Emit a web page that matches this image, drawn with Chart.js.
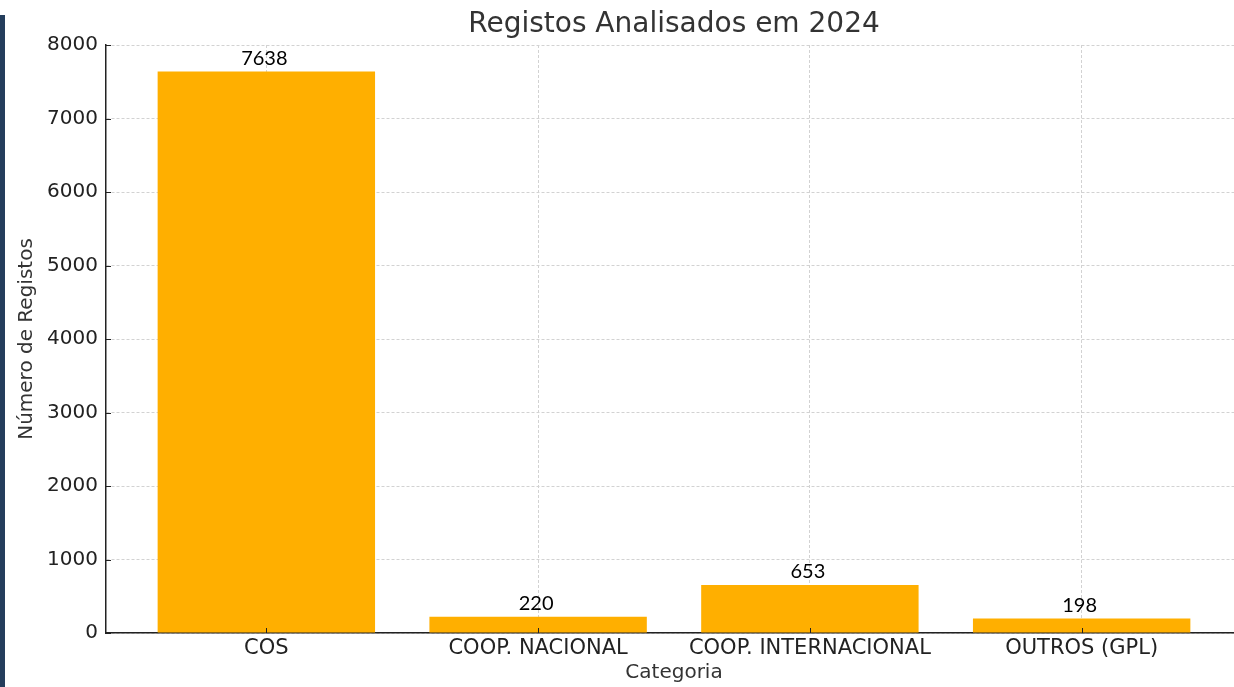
<!DOCTYPE html>
<html>
<head>
<meta charset="utf-8">
<script src="https://cdn.jsdelivr.net/npm/chart.js@4/dist/chart.umd.min.js"></script>
<style>
  html, body { margin: 0; padding: 0; background: #fff; overflow: hidden; }
  #wrap { position: relative; width: 1234px; height: 687px; overflow: hidden; }
  #leftBar { position: absolute; left: 0; top: 15px; width: 5px; bottom: 0; background: #243d5c; z-index: 2; }
  canvas { position: absolute; left: 0; top: 0; }
</style>
</head>
<body>
<div id="wrap">
  <div id="leftBar"></div>
  <canvas id="regChart" width="1242" height="687"></canvas>
</div>
<script>
/* ======================================================
   DATA
====================================================== */

const categories = ["COS", "COOP. NACIONAL", "COOP. INTERNACIONAL", "OUTROS (GPL)"];
const registos = [7638, 220, 653, 198];
const yTicks = [0, 1000, 2000, 3000, 4000, 5000, 6000, 7000, 8000];

const BAR_COLOR = "#ffaf00";
const FONT = "'DejaVu Sans', sans-serif";

/* ======================================================
   PLUGINS
====================================================== */

// value above each bar
const valueLabels = {
  id: "valueLabels",
  afterDatasetsDraw(chart) {
    const ctx = chart.ctx;
    const meta = chart.getDatasetMeta(0);
    ctx.save();
    ctx.font = "20px Lato, sans-serif";
    ctx.fillStyle = "#000";
    ctx.textAlign = "center";
    ctx.textBaseline = "bottom";
    meta.data.forEach((bar, i) => {
      ctx.fillText(String(registos[i]), bar.x - 2, bar.y - 3);
    });
    ctx.restore();
  }
};

// short tick marks pointing into the plot
const innerTicks = {
  id: "innerTicks",
  afterDraw(chart) {
    const { ctx, chartArea, scales } = chart;
    ctx.save();
    ctx.strokeStyle = "#222";
    ctx.lineWidth = 1;
    ctx.beginPath();
    scales.y.ticks.forEach((t, i) => {
      const y = Math.round(scales.y.getPixelForTick(i)) + 0.5;
      ctx.moveTo(chartArea.left, y);
      ctx.lineTo(chartArea.left + 5, y);
    });
    scales.x.ticks.forEach((t, i) => {
      const x = Math.round(scales.x.getPixelForTick(i)) + 0.5;
      ctx.moveTo(x, chartArea.bottom);
      ctx.lineTo(x, chartArea.bottom - 5);
    });
    ctx.stroke();
    ctx.restore();
  }
};

/* ======================================================
   CHART
====================================================== */

new Chart(document.getElementById("regChart"), {
  type: "bar",
  data: {
    datasets: [{
      label: "Registos",
      data: registos.map((v, i) => ({ x: i, y: v })),
      backgroundColor: BAR_COLOR,
      borderWidth: 0,
      barPercentage: 0.8,
      categoryPercentage: 1
    }]
  },
  options: {
    responsive: false,
    animation: false,
    devicePixelRatio: 1,
    layout: { padding: 0 },
    plugins: {
      legend: { display: false },
      tooltip: { enabled: false },
      title: {
        display: true,
        text: "Registos Analisados em 2024",
        fullSize: false,
        color: "#333",
        font: { family: FONT, size: 28, weight: "normal" },
        padding: { top: 8.2, bottom: 3.2 }
      }
    },
    scales: {
      x: {
        type: "linear",
        offset: false,
        min: -0.59,
        max: 3.59,
        afterBuildTicks(scale) {
          scale.ticks = categories.map((c, i) => ({ value: i }));
        },
        afterFit(scale) { scale.height = 54; },
        ticks: {
          padding: 3,
          color: "#222",
          font: { family: FONT, size: 21 },
          maxRotation: 0,
          autoSkip: false,
          callback: (v) => categories[v] ?? ""
        },
        grid: {
          offset: false,
          drawTicks: false,
          color: "#d2d2d2",
          lineWidth: 1
        },
        border: { display: true, color: "#222", width: 1.5, dash: [3, 2] },
        title: {
          display: true,
          text: "Categoria",
          color: "#333",
          font: { family: FONT, size: 20 },
          padding: { top: 0, bottom: 2 }
        }
      },
      y: {
        min: 0,
        max: 8000,
        afterBuildTicks(scale) {
          scale.ticks = yTicks.map(v => ({ value: v }));
        },
        afterFit(scale) { scale.width = 106; },
        ticks: {
          padding: 8,
          color: "#222",
          font: { family: FONT, size: 20 },
          callback: (v) => String(v)
        },
        grid: {
          drawTicks: false,
          color: "#d2d2d2",
          lineWidth: 1
        },
        border: { display: true, color: "#222", width: 1.5, dash: [3, 2] },
        title: {
          display: true,
          text: "Número de Registos",
          color: "#333",
          font: { family: FONT, size: 20 },
          padding: { top: 15, bottom: 0 }
        }
      }
    }
  },
  plugins: [valueLabels, innerTicks]
});
</script>
</body>
</html>
